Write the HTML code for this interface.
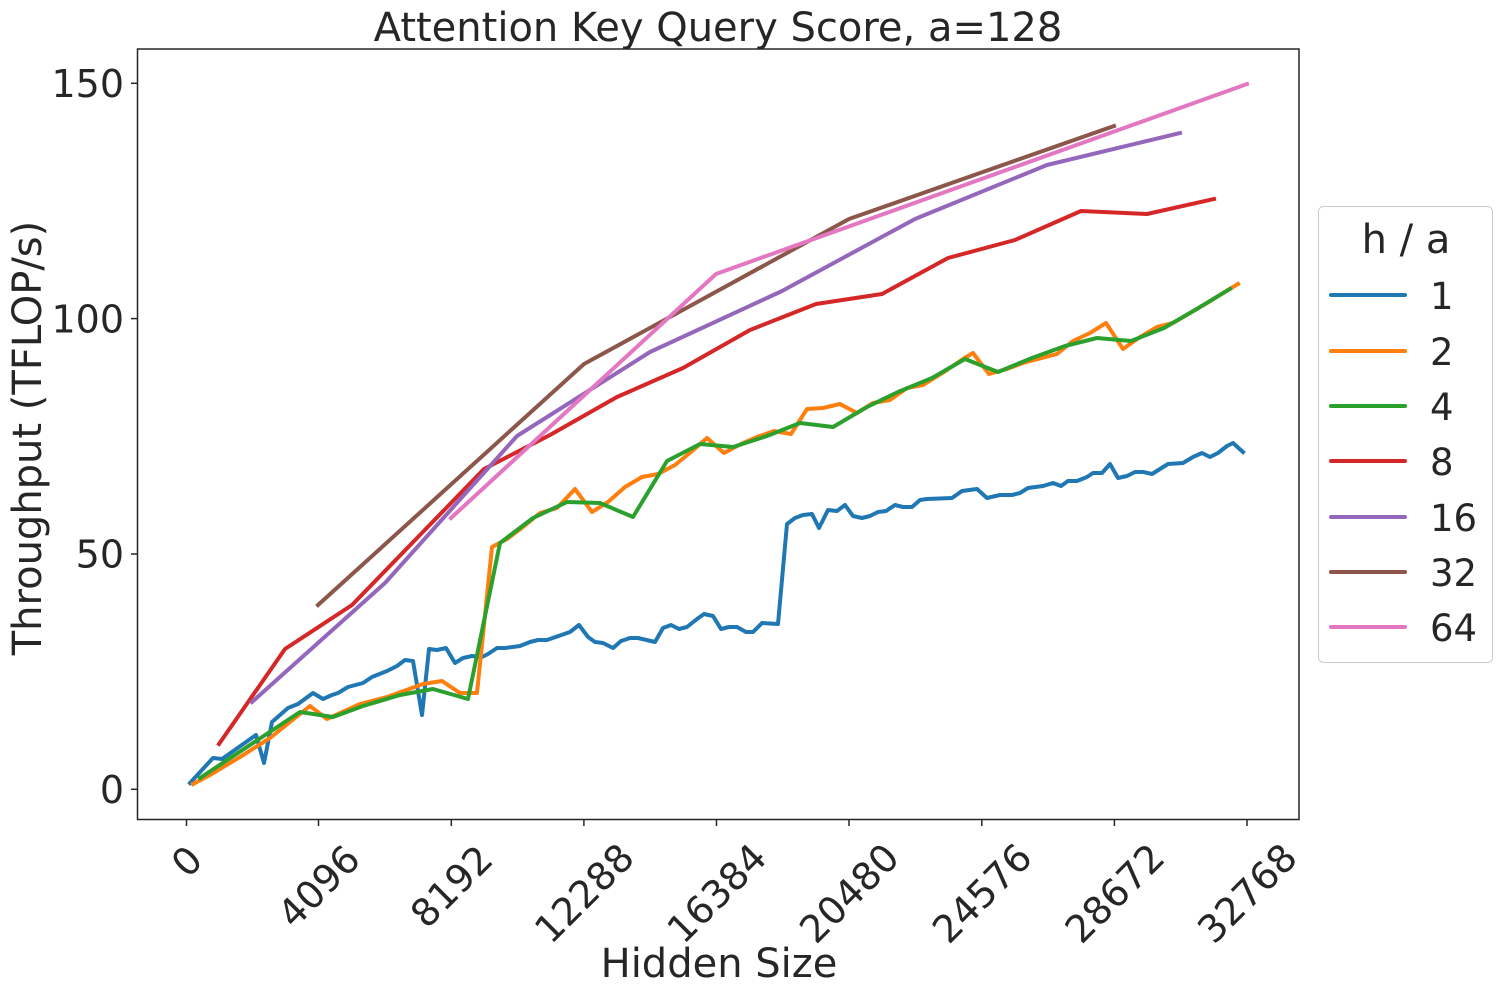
<!DOCTYPE html>
<html>
<head>
<meta charset="utf-8">
<style>
  html, body { margin: 0; padding: 0; background: #ffffff; }
  svg { display: block; }
  text { font-family: "DejaVu Sans", "Liberation Sans", sans-serif; fill: #262626; }
</style>
</head>
<body>
<svg width="1506" height="995" viewBox="0 0 1506 995" xmlns="http://www.w3.org/2000/svg">
  <rect x="0" y="0" width="1506" height="995" fill="#ffffff"/>

  <!-- Title -->
  <text x="718" y="41" font-size="40" text-anchor="middle">Attention Key Query Score, a=128</text>

  <!-- Series -->
  <g fill="none" stroke-width="4" stroke-linejoin="round" stroke-linecap="square">
    <!-- 1 -->
    <polyline stroke="#1f77b4" points="190,783 213,758 222,759 256,735 264,763 272,722 288,708 298,704 313,693 323,699 332,695 338,693 348,687 363,683 372,677 387,671 397,666 405,660 413,661 422,715 429,649 437,650 446,648 455,663 463,658 472,656 482,657 488,654 497,648 505,648 520,646 530,642 538,640 547,640 570,632 579,625 588,637 595,642 603,643 613,648 621,641 630,638 638,638 655,642 663,628 671,625 679,629 687,627 697,619 704,614 713,616 721,629 729,627 737,627 746,632 753,632 762,623 778,624 787,524 795,518 803,515 812,514 819,528 828,510 837,511 845,505 853,516 862,518 870,516 878,512 886,511 895,505 903,507 912,507 920,500 927,499 952,498 962,491 977,489 987,498 1000,495 1012,495 1020,493 1028,488 1043,486 1053,483 1061,486 1068,481 1077,481 1087,477 1093,473 1102,473 1110,464 1118,478 1127,476 1135,472 1143,472 1152,474 1160,469 1168,464 1183,463 1193,457 1202,453 1210,457 1218,453 1227,446 1233,443 1243,452"/>
    <!-- 2 -->
    <polyline stroke="#ff7f0e" points="193,784 210,775 240,757 270,738 290,722 310,706 327,719 360,704 387,697 423,684 442,681 460,693 477,693 492,547 507,539 523,527 540,513 557,508 575,489 592,512 608,502 625,487 642,477 658,474 675,465 691,452 707,438 724,453 741,444 757,437 774,431 791,434 807,409 823,408 840,404 857,413 873,403 890,400 907,388 923,385 947,370 963,359 973,353 989,374 1007,369 1023,363 1057,354 1073,341 1090,333 1106,323 1123,349 1140,337 1157,327 1173,323 1190,313 1207,303 1223,293 1238,284"/>
    <!-- 4 -->
    <polyline stroke="#2ca02c" points="200,778 300,712 333,717 363,706 400,695 433,689 468,699 500,543 533,518 567,502 600,503 633,517 667,461 700,444 733,447 767,436 800,423 833,427 867,407 898,392 932,378 965,359 998,372 1032,358 1065,346 1097,338 1131,341 1164,328 1195,310 1230,289"/>
    <!-- 8 -->
    <polyline stroke="#d62728" points="219,744 285,649 352,605 418,537 484,469 550,435 617,397 683,368 750,330 816,304 882,294 948,258 1015,240 1081,211 1147,214 1214,199"/>
    <!-- 16 -->
    <polyline stroke="#9467bd" points="252,702 385,583 517,436 650,352 782,291 915,219 1047,165 1180,133"/>
    <!-- 32 -->
    <polyline stroke="#8c564b" points="318,605 584,364 849,219 1114,126"/>
    <!-- 64 -->
    <polyline stroke="#e377c2" points="451,518 716,274 1247,84"/>
  </g>

  <!-- Axes frame -->
  <rect x="137.5" y="49" width="1161.5" height="770.5" fill="none" stroke="#262626" stroke-width="1.5"/>

  <!-- Y ticks -->
  <g stroke="#262626" stroke-width="1.5">
    <line x1="131" y1="789.3" x2="137.5" y2="789.3"/>
    <line x1="131" y1="554" x2="137.5" y2="554"/>
    <line x1="131" y1="318.6" x2="137.5" y2="318.6"/>
    <line x1="131" y1="83.3" x2="137.5" y2="83.3"/>
  </g>
  <g font-size="38" text-anchor="end">
    <text x="124" y="789.3" dy="0.36em">0</text>
    <text x="124" y="554" dy="0.36em">50</text>
    <text x="124" y="318.6" dy="0.36em">100</text>
    <text x="124" y="83.3" dy="0.36em">150</text>
  </g>

  <!-- X ticks -->
  <g stroke="#262626" stroke-width="1.5">
    <line x1="186.5" y1="819.5" x2="186.5" y2="826"/>
    <line x1="318.5" y1="819.5" x2="318.5" y2="826"/>
    <line x1="451.3" y1="819.5" x2="451.3" y2="826"/>
    <line x1="583.9" y1="819.5" x2="583.9" y2="826"/>
    <line x1="716.5" y1="819.5" x2="716.5" y2="826"/>
    <line x1="849" y1="819.5" x2="849" y2="826"/>
    <line x1="981.8" y1="819.5" x2="981.8" y2="826"/>
    <line x1="1114.4" y1="819.5" x2="1114.4" y2="826"/>
    <line x1="1247" y1="819.5" x2="1247" y2="826"/>
  </g>
  <g font-size="38" text-anchor="middle">
    <text x="186.5" y="861" dy="0.36em" transform="rotate(-45 186.5 861)">0</text>
    <text x="318.5" y="886" dy="0.36em" transform="rotate(-45 318.5 886)">4096</text>
    <text x="451.3" y="886" dy="0.36em" transform="rotate(-45 451.3 886)">8192</text>
    <text x="583.9" y="893" dy="0.36em" transform="rotate(-45 583.9 893)">12288</text>
    <text x="716.5" y="893" dy="0.36em" transform="rotate(-45 716.5 893)">16384</text>
    <text x="849" y="893" dy="0.36em" transform="rotate(-45 849 893)">20480</text>
    <text x="981.8" y="893" dy="0.36em" transform="rotate(-45 981.8 893)">24576</text>
    <text x="1114.4" y="893" dy="0.36em" transform="rotate(-45 1114.4 893)">28672</text>
    <text x="1247" y="893" dy="0.36em" transform="rotate(-45 1247 893)">32768</text>
  </g>

  <!-- Axis labels -->
  <text x="719" y="977" font-size="40" text-anchor="middle">Hidden Size</text>
  <text transform="translate(41 438) rotate(-90)" font-size="40" text-anchor="middle">Throughput (TFLOP/s)</text>

  <!-- Legend -->
  <rect x="1318.5" y="206.5" width="174" height="456" rx="5" ry="5" fill="#ffffff" fill-opacity="0.8" stroke="#cccccc" stroke-width="1"/>
  <text x="1406" y="253" font-size="40" text-anchor="middle">h / a</text>
  <g stroke-width="4" stroke-linecap="round">
    <line x1="1331" y1="295" x2="1405" y2="295" stroke="#1f77b4"/>
    <line x1="1331" y1="351" x2="1405" y2="351" stroke="#ff7f0e"/>
    <line x1="1331" y1="406" x2="1405" y2="406" stroke="#2ca02c"/>
    <line x1="1331" y1="461" x2="1405" y2="461" stroke="#d62728"/>
    <line x1="1331" y1="517" x2="1405" y2="517" stroke="#9467bd"/>
    <line x1="1331" y1="572" x2="1405" y2="572" stroke="#8c564b"/>
    <line x1="1331" y1="627" x2="1405" y2="627" stroke="#e377c2"/>
  </g>
  <g font-size="37">
    <text x="1430" y="309">1</text>
    <text x="1430" y="365">2</text>
    <text x="1430" y="420">4</text>
    <text x="1430" y="475">8</text>
    <text x="1430" y="531">16</text>
    <text x="1430" y="586">32</text>
    <text x="1430" y="641">64</text>
  </g>
</svg>
</body>
</html>
